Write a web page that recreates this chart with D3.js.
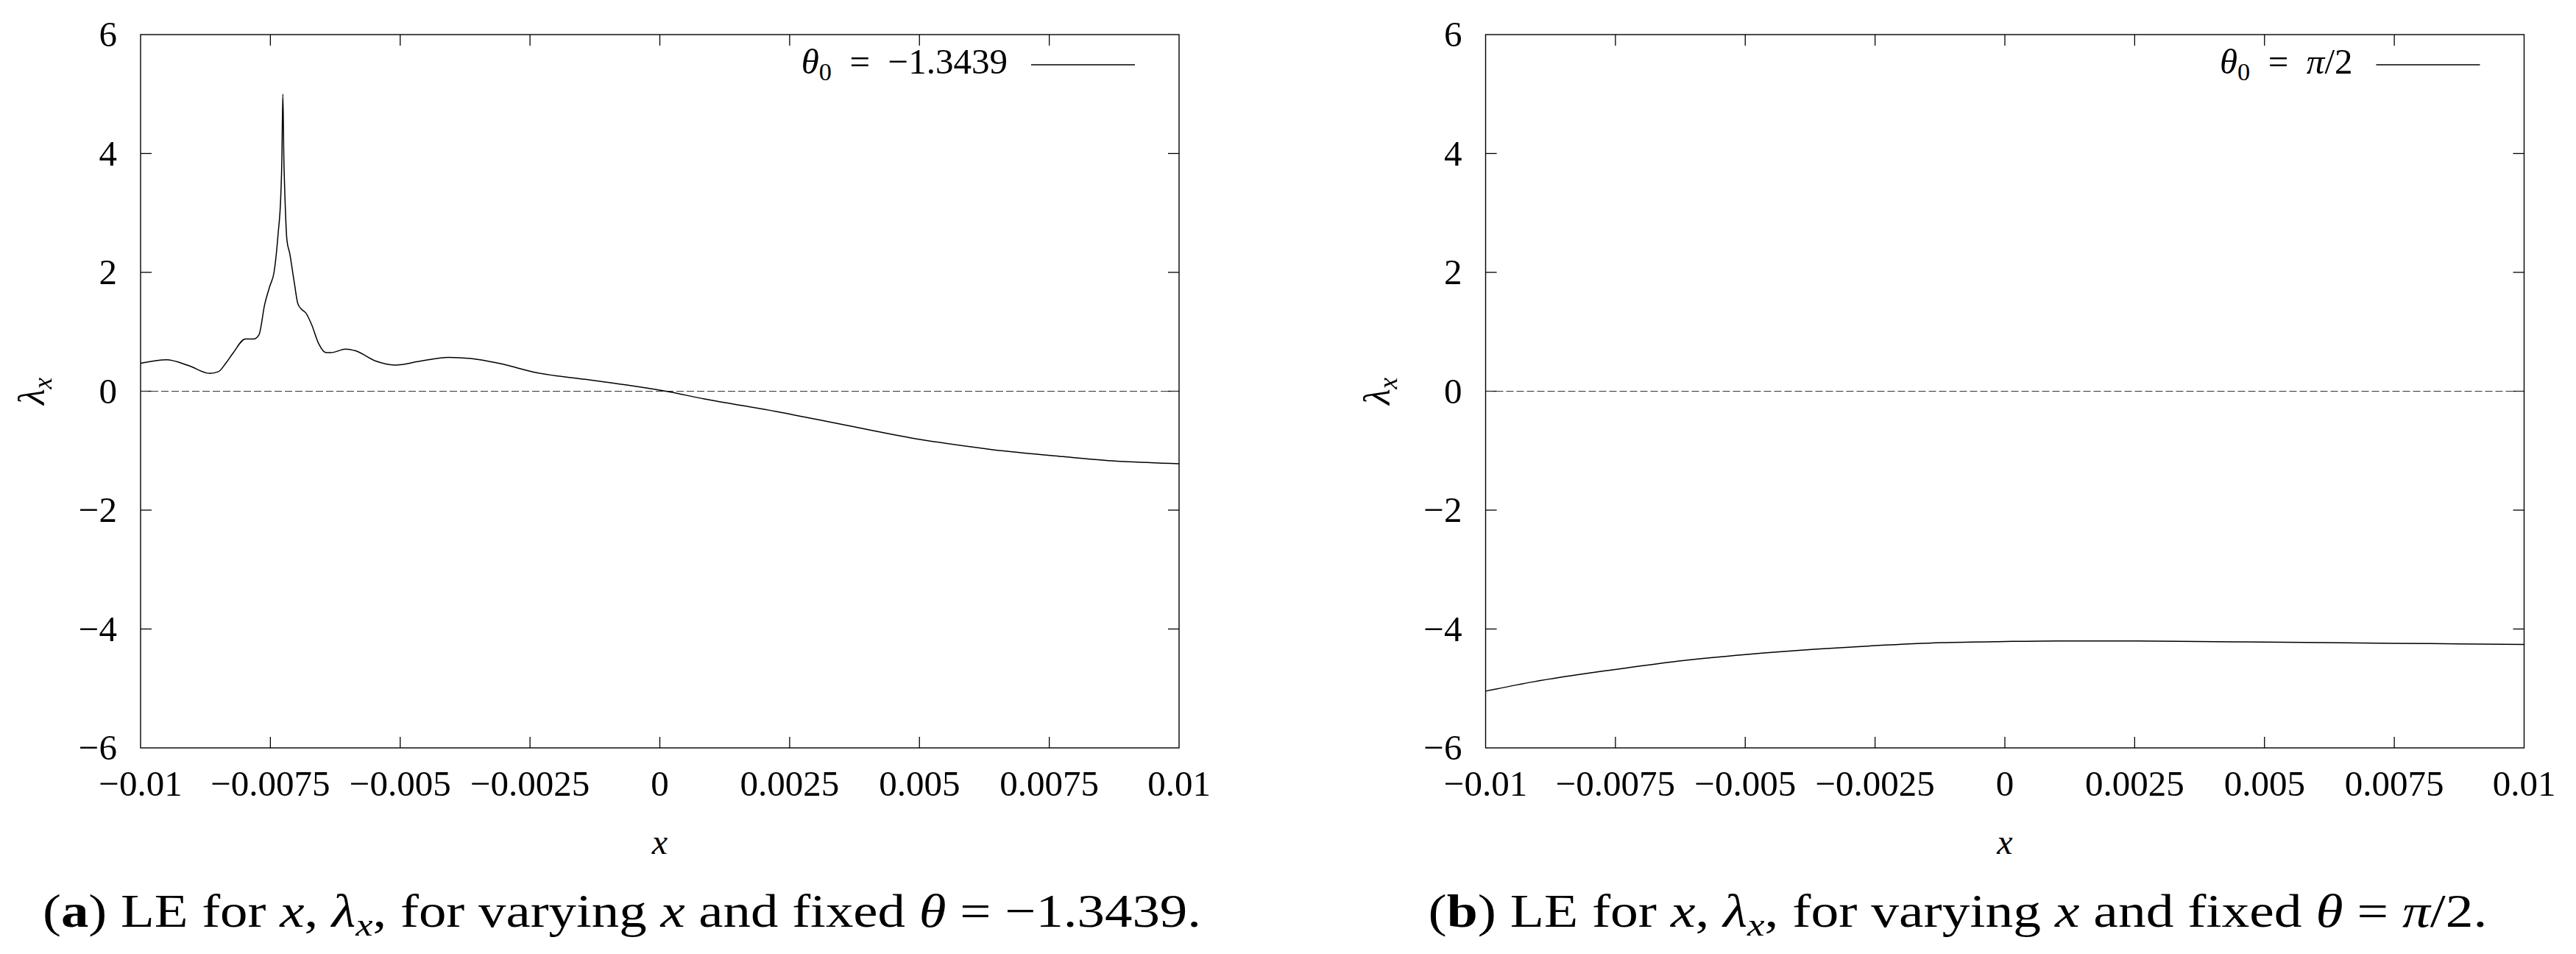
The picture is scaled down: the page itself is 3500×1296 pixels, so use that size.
<!DOCTYPE html>
<html lang="en">

<head>
    <meta charset="UTF-8">
    <title>LE for x</title>
    <script src="https://d3js.org/d3.v7.min.js"></script>
    <style>
        body {
            margin: 0;
            background: white;
        }

        svg text {
            font-family: "Liberation Serif", "Times New Roman", serif;
            fill: black;
        }

        .frame {
            fill: none;
            stroke: black;
            stroke-width: 1.4px;
        }

        .tick {
            stroke: black;
            stroke-width: 1.3px;
        }

        .curve {
            fill: none;
            stroke: black;
            stroke-width: 1.5px;
        }

        .zero {
            stroke: #333;
            stroke-width: 1.1px;
            stroke-dasharray: 10, 4;
        }
    </style>
</head>

<body>
    <svg width="3500" height="1296"></svg>

    <script>
        // ticks shared by both panels
        const xTicks = [-0.01, -0.0075, -0.005, -0.0025, 0, 0.0025, 0.005, 0.0075, 0.01];
        const xTickLabels = ["−0.01", "−0.0075", "−0.005", "−0.0025", "0", "0.0025", "0.005", "0.0075", "0.01"];
        const yTicks = [-6, -4, -2, 0, 2, 4, 6];
        const yTickLabels = ["−6", "−4", "−2", "0", "2", "4", "6"];

        // panel (a): theta0 = -1.3439
        const xA = [-0.01, -0.0095, -0.00907, -0.00867, -0.0085, -0.00836, -0.00822, -0.00798, -0.00782,
            -0.00772, -0.00761, -0.00751, -0.00743, -0.00735, -0.0073, -0.00728, -0.00726, -0.00724,
            -0.00722, -0.00718, -0.00713, -0.00704, -0.00697, -0.0069, -0.00682, -0.00671, -0.00657,
            -0.00643, -0.00633, -0.00605, -0.00586, -0.00548, -0.0051, -0.00459, -0.00407, -0.00364,
            -0.0031, -0.00236, -0.00144, -0.00052, 0.00012, 0.00086, 0.00224, 0.00363, 0.00501,
            0.00639, 0.00777, 0.0087, 0.01];
        const yA = [0.47, 0.53, 0.43, 0.30, 0.33, 0.47, 0.64, 0.88, 0.88,
            0.95, 1.46, 1.77, 2.0, 2.66, 3.28, 3.85, 5.0, 3.89,
            3.28, 2.53, 2.33, 1.83, 1.47, 1.38, 1.32, 1.13, 0.80,
            0.65, 0.65, 0.71, 0.68, 0.51, 0.44, 0.51, 0.57, 0.55,
            0.47, 0.31, 0.20, 0.09, 0.0, -0.13, -0.34, -0.58, -0.81,
            -0.98, -1.10, -1.17, -1.22];

        // panel (b): theta0 = pi/2
        const xB = [-0.01, -0.00909, -0.0075, -0.00638, -0.005, -0.00367, -0.0025, -0.00122, 0,
            0.00109, 0.0025, 0.00373, 0.005, 0.0075, 0.00875, 0.01];
        const yB = [-5.045, -4.89, -4.68, -4.55, -4.43, -4.34, -4.28, -4.23, -4.21,
            -4.20, -4.20, -4.21, -4.22, -4.24, -4.25, -4.26];

        const svg = d3.select("svg");
        const plotTop = 47;
        const plotHeight = 969;
        const plotWidth = 1411;
        const tickLen = 15;

        // writes a run of text pieces: {t, it, sub, bold}
        function writeRich(textSel, parts, subShift) {
            let inSub = false;
            parts.forEach(p => {
                const ts = textSel.append("tspan").text(p.t);
                if (p.it) ts.style("font-style", "italic");
                if (p.bold) ts.style("font-weight", "bold");
                if (p.sub && !inSub) { ts.attr("dy", subShift); inSub = true; }
                else if (!p.sub && inSub) { ts.attr("dy", -subShift); inSub = false; }
                if (p.sub) ts.style("font-size", "70%");
            });
        }

        function drawPanel(left, xs, ys, legendParts, captionParts, captionX, captionLen) {
            const g = svg.append("g");
            const x = d3.scaleLinear().domain([-0.01, 0.01]).range([left, left + plotWidth]);
            const y = d3.scaleLinear().domain([-6, 6]).range([plotTop + plotHeight, plotTop]);

            // ticks on all four sides, pointing inward
            xTicks.slice(1, -1).forEach(t => {
                g.append("line").attr("class", "tick")
                    .attr("x1", x(t)).attr("x2", x(t))
                    .attr("y1", y(-6)).attr("y2", y(-6) - tickLen);
                g.append("line").attr("class", "tick")
                    .attr("x1", x(t)).attr("x2", x(t))
                    .attr("y1", y(6)).attr("y2", y(6) + tickLen);
            });
            yTicks.slice(1, -1).forEach(t => {
                g.append("line").attr("class", "tick")
                    .attr("x1", x(-0.01)).attr("x2", x(-0.01) + tickLen)
                    .attr("y1", y(t)).attr("y2", y(t));
                g.append("line").attr("class", "tick")
                    .attr("x1", x(0.01)).attr("x2", x(0.01) - tickLen)
                    .attr("y1", y(t)).attr("y2", y(t));
            });

            // tick labels
            g.selectAll(".xlab").data(xTicks).join("text")
                .attr("class", "xlab")
                .attr("x", d => x(d))
                .attr("y", y(-6) + 65)
                .attr("text-anchor", "middle")
                .style("font-size", "49px")
                .text((d, i) => xTickLabels[i]);
            g.selectAll(".ylab").data(yTicks).join("text")
                .attr("class", "ylab")
                .attr("x", x(-0.01) - 32)
                .attr("y", d => y(d) + 16)
                .attr("text-anchor", "end")
                .style("font-size", "49px")
                .text((d, i) => yTickLabels[i]);

            // zero line
            g.append("line").attr("class", "zero")
                .attr("x1", x(-0.01)).attr("x2", x(0.01))
                .attr("y1", y(0)).attr("y2", y(0));

            // data curve
            const pts = xs.map((v, i) => [v, ys[i]]);
            g.append("path").attr("class", "curve")
                .attr("d", d3.line().x(d => x(d[0])).y(d => y(d[1])).curve(d3.curveMonotoneX)(pts));

            // frame
            g.append("rect").attr("class", "frame")
                .attr("x", x(-0.01)).attr("y", y(6))
                .attr("width", plotWidth).attr("height", plotHeight);

            // legend
            const legEnd = x(0.01) - 60;
            const legStart = legEnd - 141;
            g.append("line").attr("class", "tick")
                .attr("x1", legStart).attr("x2", legEnd)
                .attr("y1", 88).attr("y2", 88);
            const leg = g.append("text")
                .attr("x", legStart - 32).attr("y", 100)
                .attr("text-anchor", "end")
                .style("font-size", "49px");
            writeRich(leg, legendParts, 9);

            // axis titles
            g.append("text")
                .attr("x", x(0)).attr("y", 1160)
                .attr("text-anchor", "middle")
                .style("font-size", "48px")
                .style("font-style", "italic")
                .text("x");
            const yt = g.append("text")
                .attr("transform", `translate(${left - 131},${y(0)}) rotate(-90)`)
                .attr("text-anchor", "middle")
                .style("font-size", "50px");
            writeRich(yt, [{ t: "λ", it: true }, { t: "x", it: true, sub: true }], 10);

            // caption
            const cap = g.append("text")
                .attr("x", captionX).attr("y", 1259)
                .attr("text-anchor", "middle")
                .attr("textLength", captionLen)
                .attr("lengthAdjust", "spacingAndGlyphs")
                .style("font-size", "64px");
            writeRich(cap, captionParts, 12);
        }

        drawPanel(191, xA, yA,
            [{ t: "θ", it: true }, { t: "0", sub: true }, { t: "\u2002=\u2002−1.3439" }],
            [{ t: "(" }, { t: "a", bold: true }, { t: ") LE for " }, { t: "x", it: true }, { t: ", " },
            { t: "λ", it: true }, { t: "x", it: true, sub: true }, { t: ", for varying " }, { t: "x", it: true },
            { t: " and fixed " }, { t: "θ", it: true }, { t: " = −1.3439." }],
            845, 1574);

        drawPanel(2018.5, xB, yB,
            [{ t: "θ", it: true }, { t: "0", sub: true }, { t: "\u2002=\u2002" }, { t: "π", it: true }, { t: "/2" }],
            [{ t: "(" }, { t: "b", bold: true }, { t: ") LE for " }, { t: "x", it: true }, { t: ", " },
            { t: "λ", it: true }, { t: "x", it: true, sub: true }, { t: ", for varying " }, { t: "x", it: true },
            { t: " and fixed " }, { t: "θ", it: true }, { t: " = " }, { t: "π", it: true }, { t: "/2." }],
            2660, 1439);
    </script>
</body>

</html>
